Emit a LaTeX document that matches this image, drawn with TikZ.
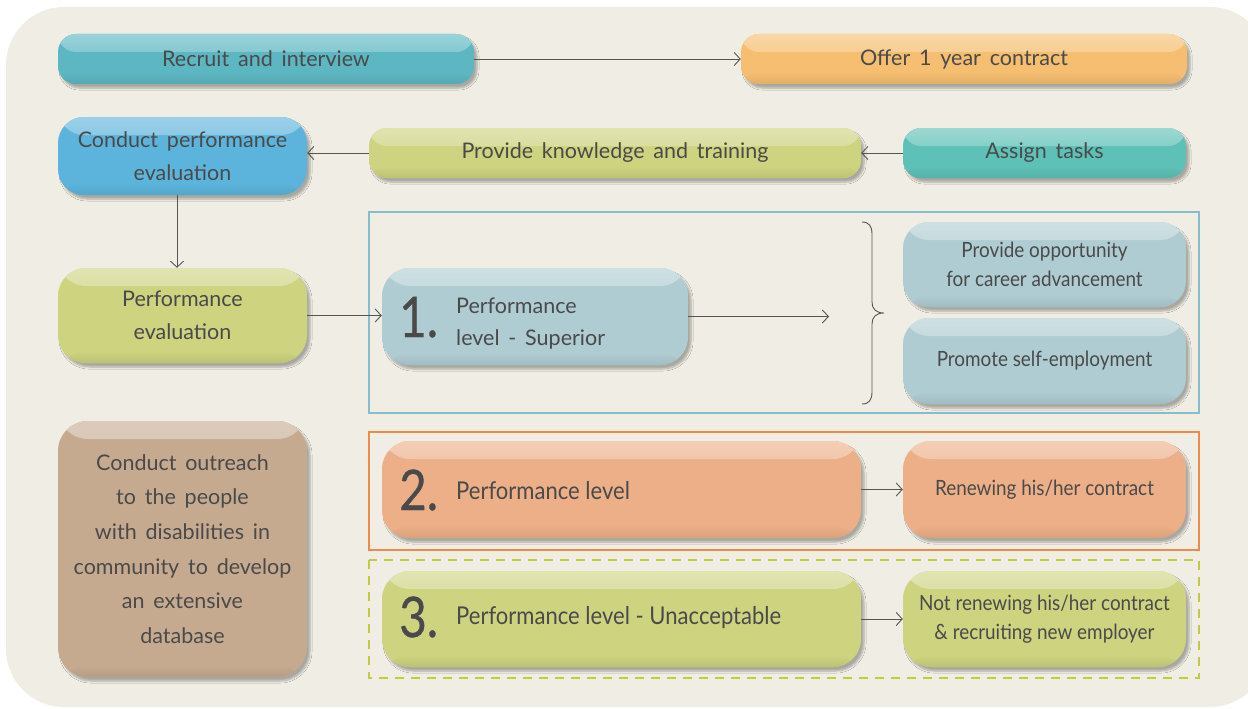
\documentclass[tikz,border=0pt]{standalone}
\usepackage{fontspec}
\setmainfont{Lato}[WordSpace=1.6]
\newfontfamily\narrowfont[FakeStretch=0.9]{Lato}
\newfontfamily\numfont[FakeStretch=0.85,FakeBold=0.6]{Lato}
\usetikzlibrary{arrows.meta,shadows.blur}
\definecolor{bgc}{HTML}{F0EEE4}
\definecolor{txt}{HTML}{4A4A4A}
\definecolor{cteal}{HTML}{5DB7C2}
\definecolor{corange}{HTML}{F5BE70}
\definecolor{cblue}{HTML}{5CB4DC}
\definecolor{colive}{HTML}{CDD37F}
\definecolor{caqua}{HTML}{5EC1B7}
\definecolor{clblue}{HTML}{AFCCD2}
\definecolor{csalmon}{HTML}{ECAF87}
\definecolor{cbrown}{HTML}{C6AA90}
\definecolor{fblue}{HTML}{86BDCB}
\definecolor{forange}{HTML}{EE8B48}
\definecolor{fgreen}{HTML}{C3CA3C}
\definecolor{lnc}{HTML}{555555}
\tikzset{
  pill/.style={fill=#1, draw=none, text=txt, align=center, inner sep=0pt,
    blur shadow={shadow xshift=3pt, shadow yshift=-4pt, shadow opacity=30, shadow blur steps=6},
    path picture={
      \shade[top color=#1!62!white, bottom color=#1]
        (path picture bounding box.north west) rectangle ([yshift=-18pt]path picture bounding box.north east);
      \shade[top color=#1, bottom color=#1!92!black]
        ([yshift=12pt]path picture bounding box.south west) rectangle (path picture bounding box.south east);
    }},
  rad/.style={rounded corners=#1},
  main/.style={font=\fontsize{21.5}{33}\selectfont},
  nar/.style={font=\narrowfont\fontsize{21}{29}\selectfont},
  num/.style={text=txt, font=\numfont\fontsize{56}{56}\selectfont, inner sep=0pt},
  conn/.style={draw=lnc, line width=0.9pt, -{Straight Barb[length=6pt,width=13pt,line width=0.9pt]}},
  frame/.style={draw=#1, line width=2pt}
}
\begin{document}
\begin{tikzpicture}[x=1pt,y=-1pt]
\useasboundingbox (0,0) rectangle (1248,709);
\fill[bgc, rounded corners=58pt] (6,7) rectangle (1268,707);

% frames
\draw[frame=fblue] (369,212) rectangle (1199,413);
\draw[frame=forange] (369,432) rectangle (1199,550);
\draw[frame=fgreen, dash pattern=on 9pt off 7pt, line width=2.5pt] (369,560) rectangle (1199,678);

% top rows
\node[pill=cteal, rad=18pt, main, minimum width=416pt, minimum height=50pt] (recruit) at (266,59) {Recruit and interview};
\node[pill=corange, rad=18pt, main, minimum width=446pt, minimum height=50pt] (offer) at (964,59) {Offer 1 year contract};
\node[pill=cblue, rad=26pt, main, minimum width=249pt, minimum height=78pt] (cpe) at (182.5,156) {Conduct performance\\evaluation};
\node[pill=colive, rad=18pt, main, minimum width=492pt, minimum height=50pt] (pkt) at (615,153) {Provide knowledge and training};
\node[pill=caqua, rad=18pt, main, minimum width=283pt, minimum height=50pt] (assign) at (1044.5,153) {Assign tasks};

% left column
\node[pill=colive, rad=28pt, main, minimum width=249pt, minimum height=95pt] (pe) at (182.5,315.5) {Performance\\evaluation};
\node[pill=cbrown, rad=30pt, main, minimum width=249pt, minimum height=256pt, font=\fontsize{21.5}{34.6}\selectfont] (outreach) at (182.5,549) {Conduct outreach\\to the people\\with disabilities in\\community to develop\\an extensive\\database};

% level 1
\node[pill=clblue, rad=28pt, minimum width=306pt, minimum height=97pt] (p1) at (535,316.5) {};
\node[num, anchor=base west] (n1) at (399,337) {1.};
\node[text=txt, align=left, anchor=west, inner sep=0pt, font=\fontsize{21.5}{32}\selectfont] (t1) at (456,324) {Performance\\level - Superior};
\node[pill=clblue, rad=26pt, nar, minimum width=283pt, minimum height=85pt] (opp) at (1044.5,264.5) {Provide opportunity\\for career advancement};
\node[pill=clblue, rad=26pt, nar, minimum width=283pt, minimum height=86pt] (self) at (1044.5,361) {Promote self-employment};
\coordinate (p1end) at (829,316.5);

% level 2
\node[pill=csalmon, rad=28pt, minimum width=479pt, minimum height=97pt] (p2) at (621.5,489.5) {};
\node[num, anchor=base west] (n2) at (399,510) {2.};
\node[text=txt, anchor=west, inner sep=0pt, font=\narrowfont\fontsize{24.5}{29}\selectfont] (t2) at (456,491) {Performance level};
\node[pill=csalmon, rad=28pt, nar, minimum width=283pt, minimum height=97pt] (renew) at (1044.5,489.5) {Renewing his/her contract};

% level 3
\node[pill=colive, rad=28pt, minimum width=479pt, minimum height=96pt] (p3) at (621.5,619) {};
\node[num, anchor=base west] (n3) at (399,637) {3.};
\node[text=txt, anchor=west, inner sep=0pt, font=\narrowfont\fontsize{24.5}{29}\selectfont] (t3) at (456,618) {Performance level - Unacceptable};
\node[pill=colive, rad=28pt, nar, minimum width=283pt, minimum height=96pt] (notrenew) at (1044.5,619) {Not renewing his/her contract\\\& recruiting new employer};

% brace
\draw[lnc, line width=0.9pt] (862,222) .. controls (869,222) and (872,226) .. (872,234) -- (872,302)
  .. controls (872,309) and (876,313) .. (884,313)
  .. controls (876,313) and (872,317) .. (872,324) -- (872,392)
  .. controls (872,400) and (869,404) .. (862,404);

% connectors
\draw[conn] (recruit.east) -- (offer.west);
\draw[conn] (pkt.west) -- (pkt.west -| cpe.east);
\draw[conn] (assign.west) -- (pkt.east);
\draw[conn] (cpe.south -| 177,0) -- (pe.north -| 177,0);
\draw[conn] (pe.east) -- (pe.east -| p1.west);
\draw[conn] (p1.east) -- (p1end);
\draw[conn] (p2.east) -- (renew.west);
\draw[conn] (p3.east) -- (notrenew.west);
\end{tikzpicture}
\end{document}
